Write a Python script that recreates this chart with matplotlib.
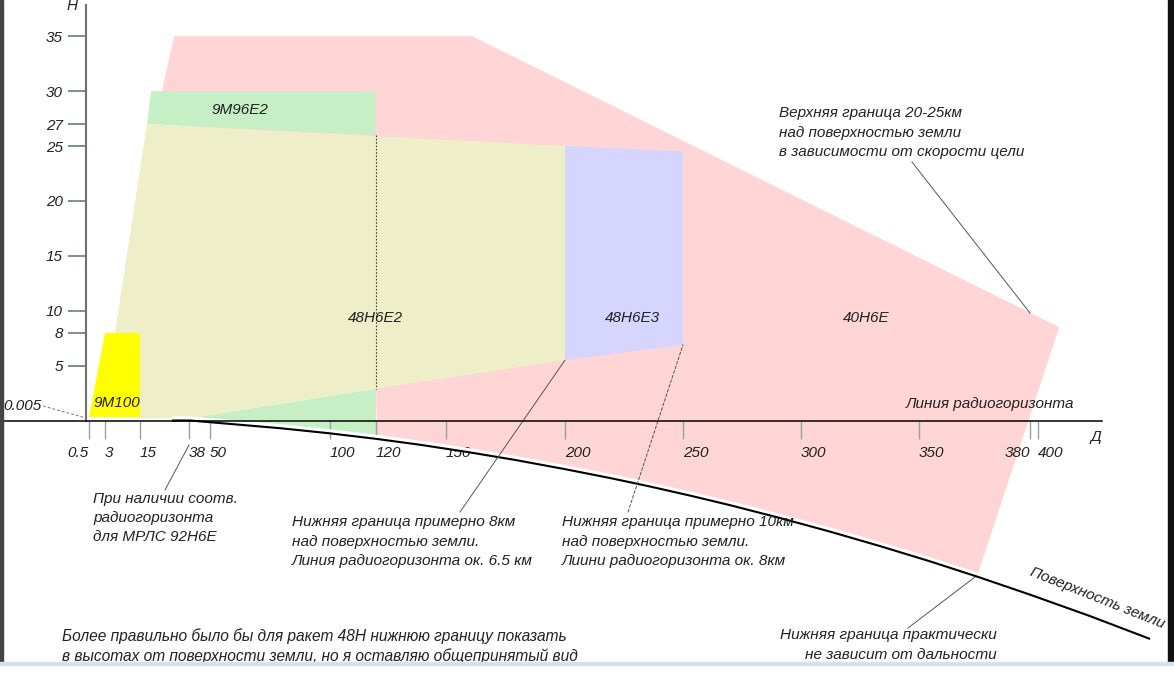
import numpy as np
import matplotlib
matplotlib.use('Agg')
import matplotlib.pyplot as plt
import matplotlib.transforms as mtransforms
from matplotlib.patches import Rectangle

plt.rcParams['font.family'] = ['Liberation Sans', 'DejaVu Sans']
plt.rcParams['font.style'] = 'italic'

# ---------------- data ----------------
dist_ticks = [0.5, 3, 15, 38, 50, 100, 120, 150, 200, 250, 300, 350, 380, 400]
dist_labels = ['0.5', '3', '15', '38', '50', '100', '120', '150', '200', '250',
               '300', '350', '380', '400']
height_ticks = [5, 8, 10, 15, 20, 25, 27, 30, 35]
height_labels = ['5', '8', '10', '15', '20', '25', '27', '30', '35']

# 40Н6Е zone (upper outline, then inner points hidden under other zones)
zone_40n6e_d = [31, 161, 409, 366]
zone_40n6e_h = [35, 35, 8.5, -13.9]
zone_40n6e_inner_d = [120, 24.4]
zone_40n6e_inner_h = [3.0, 29.2]

# 9М96Е2 upper box and lower wedge
zone_9m96e2_d = [20.2, 120, 120, 18.3]
zone_9m96e2_h = [30, 30, 26, 27]
zone_9m96e2_low_d = [38, 120]
zone_9m96e2_low_h = [0.2, 2.9]

# 48Н6Е2
zone_48n6e2_d = [18.3, 200, 200, 120, 38, 2.5]
zone_48n6e2_h = [27, 25, 5.5, 2.9, 0.2, 0.2]

# 48Н6Е3
zone_48n6e3_d = [200, 250, 250, 200]
zone_48n6e3_h = [25, 24.5, 6.9, 5.5]

# 9М100
zone_9m100_d = [3, 15, 15, 0.5]
zone_9m100_h = [8, 8, 0.35, 0.35]

# Earth surface
earth_d = [30, 38.6, 58.3, 79.2, 100, 120.4, 138.9, 158.8, 179.0, 200, 219.1, 236.0,
           253.0, 269.9, 291.1, 312.3, 333.5, 353.0, 366.0, 380, 422.0, 447.5]
earth_h = [0, 0, -0.31, -0.70, -1.17, -1.68, -2.21, -2.86, -3.59, -4.43, -5.24, -6.01,
           -6.84, -7.71, -8.88, -10.12, -11.44, -12.83, -14.25, -15.86, -17.81, -19.90]

# ---------------- layout ----------------
W, H = 1174, 676
fig = plt.figure(figsize=(W / 100, H / 100), dpi=100)
fig.patch.set_facecolor('white')
ax = fig.add_axes([0, 0, 1, 1])
ax.set_facecolor('white')

# non-uniform distance scale of the schematic
_sc_d = np.array([-36.4, 0, 0.5, 3, 15, 38, 50, 100, 120, 150, 200, 250, 300, 350, 380, 400, 457.6])
_sc_p = np.array([0, 86, 89, 105, 140, 189, 210, 330, 376, 446, 565, 683, 801, 919, 1030, 1038, 1174.0])


def _interp_ext(x, xp, fp):
    x = np.asarray(x, dtype=float)
    y = np.interp(x, xp, fp)
    y = np.where(x < xp[0], fp[0] + (x - xp[0]) * (fp[1] - fp[0]) / (xp[1] - xp[0]), y)
    y = np.where(x > xp[-1], fp[-1] + (x - xp[-1]) * (fp[-1] - fp[-2]) / (xp[-1] - xp[-2]), y)
    return y


def fwd(x):
    return _interp_ext(x, _sc_d, _sc_p)


def inv(p):
    return _interp_ext(p, _sc_p, _sc_d)


ax.set_xscale('function', functions=(fwd, inv))
ax.set_xlim(-36.4, 457.6)
ax.set_ylim(-23.27, 38.30)

PX = mtransforms.Affine2D().scale(1 / W, -1 / H).translate(0, 1) + fig.transFigure

# ---------------- zones ----------------
ed = np.array(earth_d)
eh = np.array(earth_h)
sel = (ed >= 120) & (ed <= 366)
pink_d = list(zone_40n6e_d) + list(ed[sel][::-1]) + list(zone_40n6e_inner_d)
pink_h = list(zone_40n6e_h) + list(eh[sel][::-1]) + list(zone_40n6e_inner_h)
ax.fill(pink_d, pink_h, color='#FFD5D5', lw=0, zorder=1.0)

sel2 = (ed >= 38) & (ed <= 121)
low_d = list(zone_9m96e2_low_d) + [zone_9m96e2_low_d[-1]] + list(ed[sel2][::-1])
low_h = list(zone_9m96e2_low_h) + [eh[sel2][-1]] + list(eh[sel2][::-1])
ax.fill(low_d, low_h, color='#C6EFC6', lw=0, zorder=1.1)
ax.fill(zone_9m96e2_d, zone_9m96e2_h, color='#C6EFC6', lw=0, zorder=1.1)
ax.fill(zone_48n6e2_d, zone_48n6e2_h, color='#EEEFC8', lw=0, zorder=1.1)
ax.fill(zone_48n6e3_d, zone_48n6e3_h, color='#D5D5FF', lw=0, zorder=1.1)
ax.fill(zone_9m100_d, zone_9m100_h, color='#FFFF00', lw=0, zorder=1.2)

# dotted boundary between 9М96Е2 and 48Н6Е2
ax.plot([zone_9m96e2_d[2], zone_9m96e2_d[2]], [zone_9m96e2_h[2], zone_48n6e2_h[3]],
        color='#444444', lw=0.8, ls=(0, (1.5, 1.5)), zorder=1.5)

# earth surface with white gap above
off = mtransforms.offset_copy(ax.transData, fig=fig, x=0, y=2.3, units='dots')
ax.plot(earth_d, earth_h, color='white', lw=2.6, transform=off, zorder=2.1,
        solid_capstyle='butt')
ax.plot(earth_d, earth_h, color='black', lw=1.5, zorder=2.2, solid_capstyle='butt',
        solid_joinstyle='round')

# ---------------- axes ----------------
for s in ['top', 'right']:
    ax.spines[s].set_visible(False)
ax.spines['left'].set_position(('data', 0))
ax.spines['left'].set_bounds(0, 37.84)
ax.spines['left'].set_color('#707070')
ax.spines['left'].set_linewidth(1.5)
ax.spines['bottom'].set_position(('data', 0))
ax.spines['bottom'].set_bounds(-36.4, 427)
ax.spines['bottom'].set_color('black')
ax.spines['bottom'].set_linewidth(1.1)
ax.spines['left'].set_zorder(3)
ax.spines['bottom'].set_zorder(3)

ax.set_xticks(dist_ticks, dist_labels)
ax.set_yticks(height_ticks, height_labels)
ax.minorticks_off()
ax.tick_params(axis='y', direction='out', length=13, width=1.1, color='#4f7777',
               pad=3.5, labelsize=11, labelcolor='#222222')
ax.tick_params(axis='x', direction='out', length=13, width=1.0, color='#8fa5a5',
               pad=5, labelsize=11, labelcolor='#222222')
dark_ticks = {15, 120, 150, 200, 300, 350}
for t, v in zip(ax.xaxis.get_major_ticks(), dist_ticks):
    if v in dark_ticks:
        t.tick1line.set_color('#555555')
for lbl, v in zip(ax.get_xticklabels(), dist_ticks):
    lbl.set_ha('right' if v in (0.5, 380) else 'left')

# ---------------- texts ----------------
tk = dict(transform=PX, color='#222222')
FS = 11
ax.text(72, 6, 'Н', ha='center', va='center', fontsize=FS, **tk)
ax.text(1096, 437, 'Д', ha='center', va='center', fontsize=FS, **tk)
ax.text(22, 406, '0.005', ha='center', va='center', fontsize=FS, **tk)
ax.plot([43, 86], [406, 418], transform=PX, color='#777777', lw=0.7, ls=(0, (3, 2)))

ax.text(240, 110, '9М96Е2', ha='center', va='center', fontsize=FS, **tk)
ax.text(375, 318, '48Н6Е2', ha='center', va='center', fontsize=FS, **tk)
ax.text(632, 318, '48Н6Е3', ha='center', va='center', fontsize=FS, **tk)
ax.text(866, 318, '40Н6Е', ha='center', va='center', fontsize=FS, **tk)
ax.text(117, 403, '9М100', ha='center', va='center', fontsize=FS, **tk)
ax.text(990, 404, 'Линия радиогоризонта', ha='center', va='center', fontsize=FS, **tk)
ax.text(1097, 598, 'Поверхность земли', ha='center', va='center', rotation=-21.7,
        rotation_mode='anchor', fontsize=FS, **tk)


def block(x, ys, lines, ha='left', fs=FS):
    for y, s in zip(ys, lines):
        ax.text(x, y, s, ha=ha, va='center', fontsize=fs, **tk)


block(779, [113, 133, 152], ['Верхняя граница 20-25км', 'над поверхностью земли',
                             'в зависимости от скорости цели'])
block(93, [499, 518, 537], ['При наличии соотв.', 'радиогоризонта', 'для МРЛС 92Н6Е'])
block(292, [522, 542, 561], ['Нижняя граница примерно 8км', 'над поверхностью земли.',
                             'Линия радиогоризонта ок. 6.5 км'], fs=11.1)
block(562, [522, 542, 561], ['Нижняя граница примерно 10км', 'над поверхностью земли.',
                             'Лиини радиогоризонта ок. 8км'], fs=11.1)
block(997, [635, 655], ['Нижняя граница практически', 'не зависит от дальности'],
      ha='right', fs=11.1)
block(62, [636, 656], ['Более правильно было бы для ракет 48Н нижнюю границу показать',
                       'в высотах от поверхности земли, но я оставляю общепринятый вид'],
      fs=11.2)

# leader lines
lc = dict(color='#555555', lw=0.7)
ax.plot([912, 1030], [162, 313], transform=PX, **lc)
ax.plot([189, 165], [445, 490], transform=PX, **lc)
ax.plot([975, 908], [577, 628], transform=PX, **lc)
ax.annotate('', xy=(zone_48n6e2_d[2], zone_48n6e2_h[2]), xycoords='data',
            xytext=(460, 512), textcoords=PX,
            arrowprops=dict(arrowstyle='-', color='#555555', lw=0.7,
                            shrinkA=0, shrinkB=0))
ax.annotate('', xy=(zone_48n6e3_d[2], zone_48n6e3_h[2]), xycoords='data',
            xytext=(628, 512), textcoords=PX,
            arrowprops=dict(arrowstyle='-', color='#555555', lw=0.7, ls=(0, (3, 2)),
                            shrinkA=0, shrinkB=0))

# screenshot frame
fig.patches.append(Rectangle((1168, 0), 6, 663, transform=PX, color='#111111', zorder=10))
fig.patches.append(Rectangle((0, 0), 3, 663, transform=PX, color='#444444', zorder=10))
fig.patches.append(Rectangle((0, 662), W, 2.5, transform=PX, color='#d9e1e8', zorder=10))

fig.savefig('out.png', dpi=100)
